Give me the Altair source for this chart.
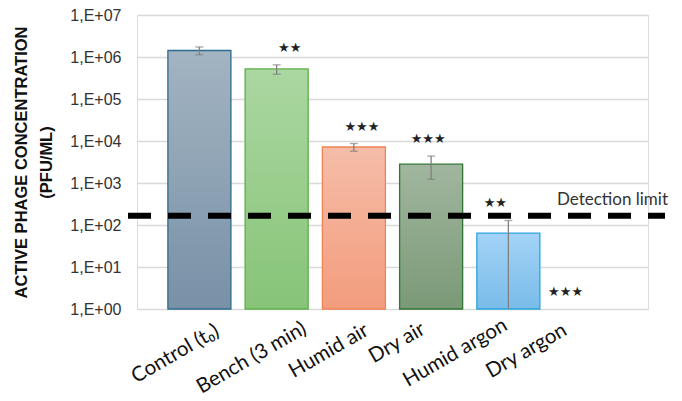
import altair as alt
import pandas as pd

categories = ["Control (t₀)", "Bench (3 min)", "Humid air", "Dry air", "Humid argon", "Dry argon"]
values = [1.43e6, 5.2e5, 7.2e3, 2.8e3, 64, None]
errors = [3.0e5, 1.3e5, 1.5e3, 1.57e3, 64, None]
stars = ["", "★★", "★★★", "★★★", "★★", "★★★"]
detection_limit = 165
tick_values = [1, 10, 100, 1e3, 1e4, 1e5, 1e6, 1e7]

top_colors = ["#a3b4c2", "#abd7a1", "#f5bda8", "#a1b69f", "#a3d3f6", "#ffffff"]
bottom_colors = ["#7891a6", "#87c478", "#f39c7d", "#7a9976", "#79bce9", "#ffffff"]
stroke_colors = ["#2f6b8d", "#5cae48", "#ef8457", "#2f7533", "#2aa4db", "#ffffff"]
star_dx = [0, 13, 8, -3, -13, -20]
label_dx = [-24, -25, -25, -34, -53, -59]
label_y = [339, 343, 336, 328, 338, 336]

rows = []
for c, v, e, s in zip(categories, values, errors, stars):
    hi = v + e if v is not None else None
    lo = max(v - e, 1) if v is not None else None
    rows.append({"cat": c, "value": v, "base": 1, "hi": hi, "lo": lo,
                 "lo_cap": (v - e) if (v is not None and v - e > 1) else None,
                 "star": s, "star_y": hi if hi is not None else 1})
df = pd.DataFrame(rows)

xscale = alt.Scale(domain=categories, paddingInner=0.184, paddingOuter=0.4)
yscale = alt.Scale(type="log", domain=[1, 1e7])

xenc = alt.X("cat:N", scale=xscale, sort=categories,
             axis=alt.Axis(title=None, labels=False, ticks=False, domain=False, grid=False))

label_expr = "'1,E+' + (round(log(datum.value)/LN10) < 10 ? '0' : '') + round(log(datum.value)/LN10)"

base = alt.Chart(df)

grid = base.mark_bar(opacity=0).encode(
    x=xenc,
    y=alt.Y("base:Q", scale=yscale,
            axis=alt.Axis(values=tick_values, labelExpr=label_expr, labelFontSize=16,
                          labelFont="Liberation Sans", labelColor="#333333", labelPadding=16,
                          ticks=False, domain=False, grid=True, gridColor="#d9d9d9", gridWidth=1.3,
                          title=["ACTIVE PHAGE CONCENTRATION", "(PFU/ML)"],
                          titleFont="Liberation Sans", titleFontSize=16.5, titleFontWeight="bold",
                          titleColor="#111111", titleX=-116, titleY=147, titleAngle=-90,
                          titleAlign="center", titleBaseline="middle", titleLineHeight=25)),
)

layers = [grid]
for i, c in enumerate(categories):
    if values[i] is None:
        continue
    grad = alt.Gradient(gradient="linear", x1=0, x2=0, y1=0, y2=1,
                        stops=[alt.GradientStop(color=top_colors[i], offset=0),
                               alt.GradientStop(color=bottom_colors[i], offset=1)])
    layers.append(
        base.transform_filter(alt.datum.cat == c).mark_bar(
            color=grad, stroke=stroke_colors[i], strokeWidth=1.3
        ).encode(x=alt.X("cat:N", scale=xscale, sort=categories),
                 y=alt.Y("value:Q", scale=yscale), y2="base:Q")
    )

err = base.transform_filter("isValid(datum.hi)").mark_rule(color="#808080", strokeWidth=1.3).encode(
    x=alt.X("cat:N", scale=xscale, sort=categories),
    y=alt.Y("hi:Q", scale=yscale), y2="lo:Q")
cap_hi = base.transform_filter("isValid(datum.hi)").mark_tick(color="#808080", size=8, thickness=1.3, orient="horizontal").encode(
    x=alt.X("cat:N", scale=xscale, sort=categories), y=alt.Y("hi:Q", scale=yscale))
cap_lo = base.transform_filter("isValid(datum.lo_cap)").mark_tick(color="#808080", size=8, thickness=1.3, orient="horizontal").encode(
    x=alt.X("cat:N", scale=xscale, sort=categories), y=alt.Y("lo_cap:Q", scale=yscale))
layers += [err, cap_hi, cap_lo]

for i, c in enumerate(categories):
    if stars[i]:
        layers.append(
            base.transform_filter(alt.datum.cat == c).mark_text(
                fontSize=13, font="DejaVu Sans", color="#222222", dx=star_dx[i], dy=-17
            ).encode(x=alt.X("cat:N", scale=xscale, sort=categories),
                     y=alt.Y("star_y:Q", scale=yscale), text="star:N")
        )
    # category label (rotated), placed from the band scale
    layers.append(
        base.transform_filter(alt.datum.cat == c).mark_text(
            fontSize=20.5, font="Lato", color="#111111", angle=330, align="center",
            baseline="middle", xOffset=label_dx[i]
        ).encode(x=alt.X("cat:N", scale=xscale, sort=categories),
                 y=alt.value(label_y[i]), text="cat:N")
    )

det_df = pd.DataFrame({"limit": [detection_limit], "label": ["Detection limit"]})
det_line = alt.Chart(det_df).mark_rule(color="black", strokeWidth=6, strokeDash=[23, 17]).encode(
    y=alt.Y("limit:Q", scale=yscale), x=alt.value(-9), x2=alt.value(528))
det_text = alt.Chart(det_df).mark_text(align="right", baseline="middle", fontSize=17, font="Lato",
                                         color="#333333", dy=-16).encode(
    y=alt.Y("limit:Q", scale=yscale), x=alt.value(531), text="label:N")
layers += [det_line, det_text]

chart = alt.layer(*layers).properties(
    width=511, height=294,
    autosize=alt.AutoSizeParams(type="none"),
    padding={"left": 129, "top": 7, "right": 26, "bottom": 84},
).configure_view(stroke=None).configure(background="white")

chart.save("out.html", embed_options={"renderer": "svg", "actions": False})
